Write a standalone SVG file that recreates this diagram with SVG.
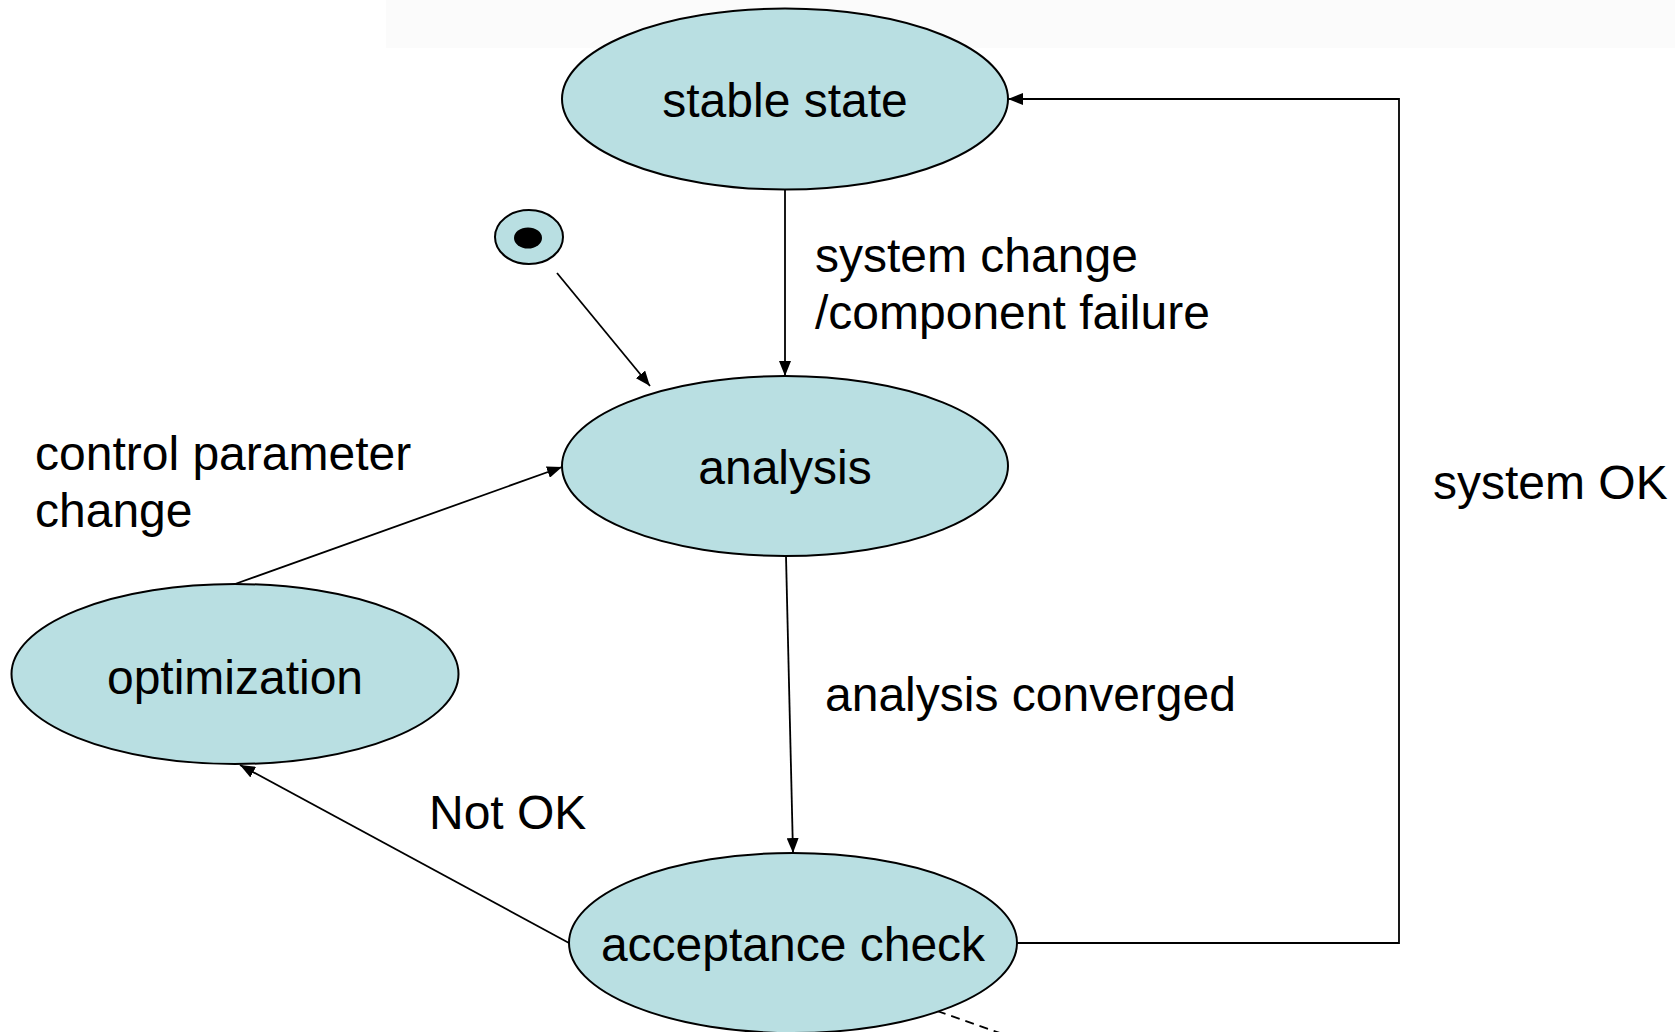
<svg xmlns="http://www.w3.org/2000/svg" width="1675" height="1032" viewBox="0 0 1675 1032">
  <style>
    .state { fill: #b9dfe2; stroke: #000; stroke-width: 2; }
    .edge { fill: none; stroke: #000; stroke-width: 1.8; }
    .dashed { stroke-dasharray: 9 6; }
    text { font-family: "Liberation Sans", Arial, sans-serif; font-size: 48px; fill: #000; }
    .center { text-anchor: middle; }
  </style>
  <defs>
    <marker id="arrow" markerUnits="userSpaceOnUse" markerWidth="16" markerHeight="12" refX="15" refY="6" orient="auto">
      <path d="M0,0 L15,6 L0,12 z" fill="#000"/>
    </marker>
  </defs>

  <rect x="386" y="0" width="1289" height="48" fill="#fbfbfb"/>

  <!-- transitions -->
  <g id="connectors">
    <line class="edge" x1="557" y1="273" x2="650" y2="386" marker-end="url(#arrow)"/>
    <line class="edge" x1="785" y1="190" x2="785" y2="376" marker-end="url(#arrow)"/>
    <line class="edge" x1="786" y1="556" x2="793" y2="853" marker-end="url(#arrow)"/>
    <polyline class="edge" points="1017,943 1399,943 1399,99 1008,99" marker-end="url(#arrow)"/>
    <line class="edge" x1="569" y1="943" x2="240" y2="765" marker-end="url(#arrow)"/>
    <line class="edge" x1="235" y1="584" x2="562" y2="467" marker-end="url(#arrow)"/>
    <line class="edge dashed" x1="937" y1="1011" x2="1000" y2="1033"/>
    <text x="815" y="272">system change</text>
    <text x="815" y="329">/component failure</text>
    <text x="35" y="470">control parameter</text>
    <text x="35" y="527">change</text>
    <text x="825" y="711">analysis converged</text>
    <text x="1433" y="499">system OK</text>
    <text x="429" y="829">Not OK</text>
  </g>

  <g id="initial">
    <ellipse class="state" cx="529" cy="237" rx="34" ry="27"/>
    <ellipse cx="528" cy="238" rx="14" ry="10.5" fill="#000"/>
  </g>

  <g id="stable-state">
    <ellipse class="state" cx="785" cy="99" rx="223" ry="90.5"/>
    <text class="center" x="785" y="117">stable state</text>
  </g>

  <g id="analysis">
    <ellipse class="state" cx="785" cy="466" rx="223" ry="90"/>
    <text class="center" x="785" y="484">analysis</text>
  </g>

  <g id="optimization">
    <ellipse class="state" cx="235" cy="674" rx="223.5" ry="90"/>
    <text class="center" x="235" y="694">optimization</text>
  </g>

  <g id="acceptance-check">
    <ellipse class="state" cx="793" cy="943" rx="224" ry="90"/>
    <text class="center" x="793" y="961">acceptance check</text>
  </g>
</svg>
